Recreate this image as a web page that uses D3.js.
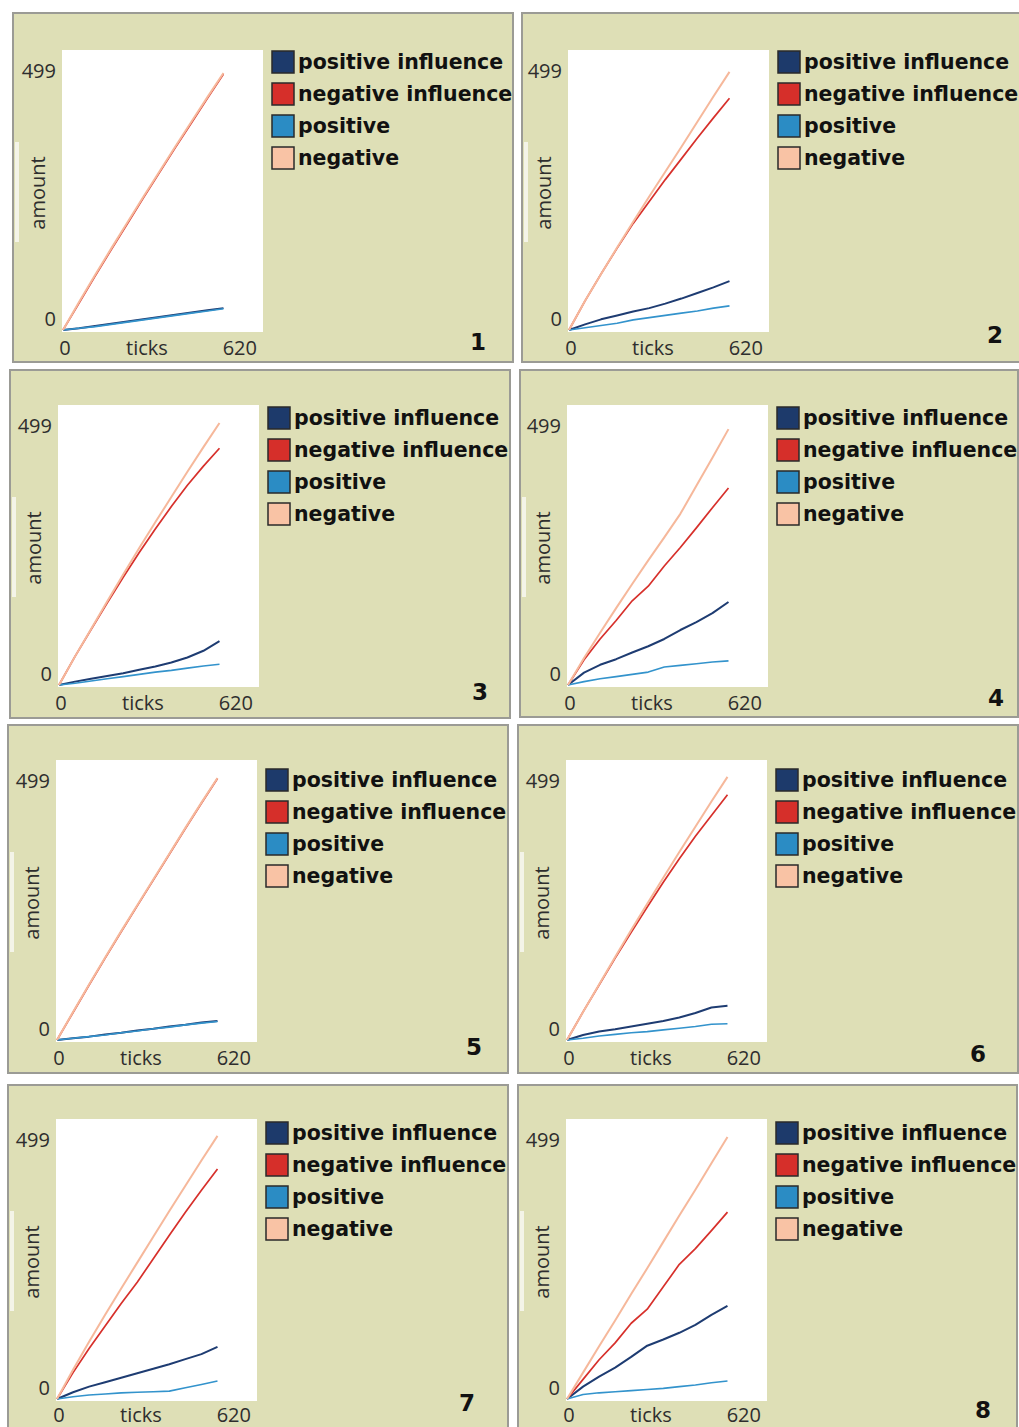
<!DOCTYPE html>
<html>
<head>
<meta charset="utf-8">
<script src="https://cdn.jsdelivr.net/npm/d3@7"></script>
<style>
  html, body { margin: 0; padding: 0; background: #fff; }
  svg { display: block; }
  .tick-label { font-family: 'Open Sans', sans-serif; font-size: 20px; fill: #2e2e2e; }
  .legend-label { font-family: 'DejaVu Sans', sans-serif; font-weight: bold; font-size: 20.5px; fill: #111; }
  .run-number { font-family: 'DejaVu Sans', sans-serif; font-weight: bold; font-size: 23px; fill: #111; }
</style>
</head>
<body>
<div id="chart"></div>
<script>
// sampled tick positions (x) shared by every run
const tickSamples = [0, 50, 100, 150, 200, 250, 300, 350, 400, 450, 500]

const seriesNames = ['positive influence', 'negative influence', 'positive', 'negative']
const runLabels = ['1', '2', '3', '4', '5', '6', '7', '8']
const yTickLabels = [0, 499]
const xTickLabels = [0, 620]
const xAxisTitle = 'ticks'
const yAxisTitle = 'amount'

// one array per run, values at tickSamples
const positiveInfluence = [
  [0, 3, 7, 11, 15, 19, 23, 27, 31, 35, 39],
  [0, 10, 19, 26, 33, 39, 47, 56, 66, 76, 87],
  [0, 6, 11, 16, 21, 27, 33, 40, 49, 61, 78],
  [0, 22, 36, 46, 58, 69, 82, 98, 112, 128, 148],
  [0, 3, 6, 10, 13, 17, 20, 24, 27, 31, 34],
  [0, 9, 15, 19, 24, 29, 34, 40, 48, 58, 61],
  [0, 12, 22, 30, 38, 46, 54, 62, 71, 80, 93],
  [0, 22, 40, 56, 75, 95, 106, 118, 132, 150, 166]
]
const negativeInfluence = [
  [0, 48, 96, 143, 189, 235, 280, 325, 369, 413, 456],
  [0, 52, 100, 146, 190, 229, 268, 305, 342, 378, 413],
  [0, 51, 99, 146, 192, 236, 278, 318, 356, 390, 422],
  [0, 45, 82, 115, 150, 176, 212, 245, 280, 316, 351],
  [0, 49, 98, 146, 193, 239, 285, 331, 377, 422, 466],
  [0, 50, 98, 146, 192, 237, 281, 323, 363, 400, 437],
  [0, 47, 90, 130, 170, 208, 250, 292, 333, 372, 410],
  [0, 35, 70, 100, 135, 160, 200, 240, 268, 300, 333]
]
const positive = [
  [0, 3, 6, 10, 14, 18, 22, 26, 30, 34, 38],
  [0, 4, 8, 12, 18, 22, 26, 30, 34, 39, 43],
  [0, 3, 7, 11, 15, 19, 23, 26, 30, 34, 37],
  [0, 6, 11, 15, 19, 23, 32, 35, 38, 41, 43],
  [0, 3, 6, 9, 13, 16, 20, 23, 27, 30, 33],
  [0, 3, 7, 10, 13, 15, 18, 21, 24, 28, 29],
  [0, 4, 7, 9, 11, 12, 13, 14, 20, 26, 32],
  [0, 8, 11, 13, 15, 17, 19, 22, 25, 29, 32]
]
const negative = [
  [0, 50, 98, 145, 191, 237, 282, 327, 371, 415, 458],
  [0, 52, 100, 147, 193, 238, 282, 326, 371, 416, 460],
  [0, 51, 100, 149, 197, 244, 290, 335, 380, 424, 467],
  [0, 48, 93, 137, 180, 222, 263, 305, 355, 405, 456],
  [0, 50, 99, 147, 194, 240, 286, 332, 378, 423, 467],
  [0, 50, 99, 148, 196, 243, 289, 335, 380, 425, 469],
  [0, 52, 102, 150, 197, 243, 289, 335, 380, 425, 469],
  [0, 47, 94, 140, 187, 233, 280, 327, 373, 420, 467]
]

const seriesValues = [positiveInfluence, negativeInfluence, positive, negative]
const lineColors = ['#1e3c72', '#d7302b', '#3393cc', '#f6b89b']
const swatchColors = ['#1d3a6b', '#d62f2a', '#2b8cc4', '#f9c3a5']
const lineWidths = [2, 1.7, 1.6, 2]

// screen layout of the eight plot windows (frame box, white plot box, legend, run number)
const layout = [
  { fx: 13, fy: 13, fw: 500, fh: 349, pl: 62, pt: 50, legendY: 62, numX: 478, numY: 342 },
  { fx: 522, fy: 13, fw: 500, fh: 349, pl: 568, pt: 50, legendY: 62, numX: 995, numY: 335 },
  { fx: 10, fy: 370, fw: 500, fh: 348, pl: 58, pt: 405, legendY: 418, numX: 480, numY: 692 },
  { fx: 520, fy: 370, fw: 498, fh: 347, pl: 567, pt: 405, legendY: 418, numX: 996, numY: 698 },
  { fx: 8, fy: 725, fw: 500, fh: 348, pl: 56, pt: 760, legendY: 780, numX: 474, numY: 1047 },
  { fx: 518, fy: 725, fw: 500, fh: 348, pl: 566, pt: 760, legendY: 780, numX: 978, numY: 1054 },
  { fx: 8, fy: 1085, fw: 500, fh: 360, pl: 56, pt: 1119, legendY: 1133, numX: 467, numY: 1403 },
  { fx: 518, fy: 1085, fw: 499, fh: 360, pl: 566, pt: 1119, legendY: 1133, numX: 983, numY: 1410 }
]

const plotWidth = 201
const plotHeight = 282
const pageHeight = 1427

const svg = d3.select('#chart').append('svg')
    .attr('width', 1019)
    .attr('height', pageHeight)

layout.forEach((box, run) => {
  const g = svg.append('g').classed('run', true)

  // window frame
  g.append('rect')
      .attr('x', box.fx).attr('y', box.fy)
      .attr('width', box.fw).attr('height', box.fh)
      .attr('fill', '#dedfb6')
      .attr('stroke', '#9b9b95')
      .attr('stroke-width', 2)

  // light strip behind the y title, left over from the screenshot
  g.append('rect')
      .attr('x', box.fx + 2).attr('y', box.pt + 92)
      .attr('width', 4).attr('height', 100)
      .attr('fill', '#f4f4e8')

  g.append('rect')
      .attr('x', box.pl).attr('y', box.pt)
      .attr('width', plotWidth).attr('height', plotHeight)
      .attr('fill', '#fff')

  const xScale = d3.scaleLinear()
      .domain([xTickLabels[0], xTickLabels[1]])
      .range([box.pl + 1, box.pl + plotWidth - 1])

  const yScale = d3.scaleLinear()
      .domain([yTickLabels[0], yTickLabels[1]])
      .range([box.pt + 280, box.pt])

  // bottom row is cut by the page edge, keep its labels inside
  const xLabelY = Math.min(box.pt + 297, pageHeight - 13)

  // axis labels sit beside the plot, netlogo style
  g.append('text').classed('tick-label', true)
      .attr('x', box.pl - 6).attr('y', box.pt + 20)
      .attr('text-anchor', 'end').attr('dominant-baseline', 'central')
      .text(yTickLabels[1])
  g.append('text').classed('tick-label', true)
      .attr('x', box.pl - 6).attr('y', box.pt + 268)
      .attr('text-anchor', 'end').attr('dominant-baseline', 'central')
      .text(yTickLabels[0])
  g.append('text').classed('tick-label', true)
      .attr('x', box.pl + 3).attr('y', xLabelY)
      .attr('text-anchor', 'middle').attr('dominant-baseline', 'central')
      .text(xTickLabels[0])
  g.append('text').classed('tick-label', true)
      .attr('x', box.pl + 195).attr('y', xLabelY)
      .attr('text-anchor', 'end').attr('dominant-baseline', 'central')
      .text(xTickLabels[1])
  g.append('text').classed('tick-label', true)
      .attr('x', box.pl + 85).attr('y', xLabelY)
      .attr('text-anchor', 'middle').attr('dominant-baseline', 'central')
      .text(xAxisTitle)
  g.append('text').classed('tick-label', true)
      .attr('transform', `translate(${box.pl - 25}, ${box.pt + 143}) rotate(-90)`)
      .attr('text-anchor', 'middle').attr('dominant-baseline', 'central')
      .text(yAxisTitle)

  const line = d3.line()
      .x(d => xScale(d[0]))
      .y(d => yScale(d[1]))

  seriesValues.forEach((series, i) => {
    const points = tickSamples.map((t, k) => [t, series[run][k]])
    g.append('path')
        .datum(points)
        .attr('d', line)
        .attr('fill', 'none')
        .attr('stroke', lineColors[i])
        .attr('stroke-width', lineWidths[i])
        .attr('stroke-linejoin', 'round')
  })

  // legend
  const legend = g.append('g')
      .attr('transform', `translate(${box.pl + 210}, ${box.legendY})`)

  const rows = legend.selectAll('g')
      .data(seriesNames).enter()
    .append('g')
      .attr('transform', (d, i) => `translate(0, ${i * 32})`)

  rows.append('rect')
      .attr('x', 0).attr('y', -11)
      .attr('width', 22).attr('height', 22)
      .attr('fill', (d, i) => swatchColors[i])
      .attr('stroke', '#2a2a2a')
      .attr('stroke-width', 1.5)

  rows.append('text').classed('legend-label', true)
      .attr('x', 26).attr('y', 0)
      .attr('dominant-baseline', 'central')
      .text(d => d)

  g.append('text').classed('run-number', true)
      .attr('x', box.numX).attr('y', box.numY)
      .attr('text-anchor', 'middle').attr('dominant-baseline', 'central')
      .text(runLabels[run])
})
</script>
</body>
</html>
